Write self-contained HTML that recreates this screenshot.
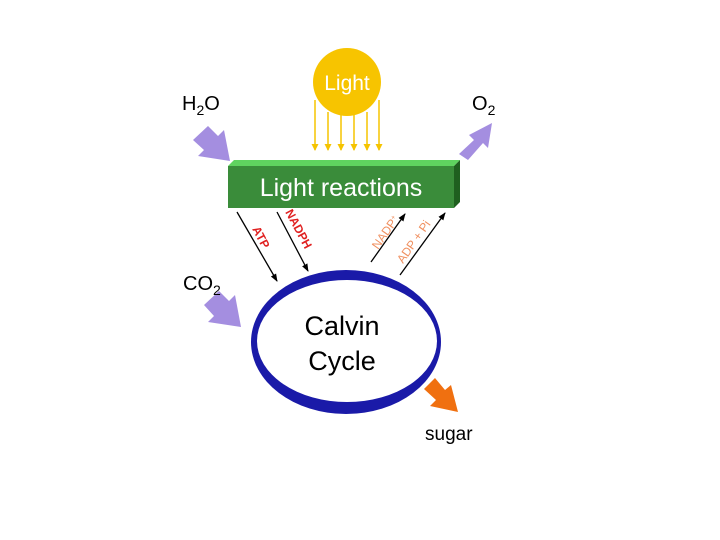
<!DOCTYPE html>
<html><head><style>body{margin:0;background:#fff}svg{display:block}</style></head><body>
<svg width="720" height="540" viewBox="0 0 720 540" font-family="Liberation Sans, sans-serif">
<defs>
<marker id="ah" markerWidth="8" markerHeight="8" refX="7" refY="4" orient="auto" markerUnits="userSpaceOnUse"><path d="M0,1 L8,4 L0,7 Z" fill="#000"/></marker>
<marker id="ay" markerWidth="7" markerHeight="7" refX="6" refY="3.5" orient="auto" markerUnits="userSpaceOnUse"><path d="M0,0 L7,3.5 L0,7 Z" fill="#f5c400"/></marker>
</defs>
<g stroke="#f5c400" stroke-width="1.5" marker-end="url(#ay)">
<line x1="315" y1="100" x2="315" y2="150"/><line x1="328" y1="112" x2="328" y2="150"/><line x1="341" y1="114" x2="341" y2="150"/><line x1="354" y1="114" x2="354" y2="150"/><line x1="367" y1="112" x2="367" y2="150"/><line x1="379" y1="100" x2="379" y2="150"/>
</g>
<circle cx="347" cy="82" r="34" fill="#f7c400"/>
<text x="347" y="90" font-size="21" fill="#fff" text-anchor="middle">Light</text>
<polygon points="228,166 234,160 460,160 454,166" fill="#5fd35f"/>
<polygon points="454,166 460,160 460,202 454,208" fill="#1f5f1f"/>
<rect x="228" y="166" width="226" height="42" fill="#3a8c3a"/>
<text x="341" y="196" font-size="25" fill="#fff" text-anchor="middle">Light reactions</text>
<g fill="#a48ee0">
<polygon points="193,140 208,126 218,136 224,130 230,161 198,156 204,150"/>
<polygon points="459,154 474,140 469,135 492,123 488,148 483,143 468,160"/>
<polygon points="204,305 219,291 229,301 235,295 241,327 208,322 214,316"/>
</g>
<polygon points="424,389 435,378 445,390 451,385 458,412 430,406 436,400" fill="#f07010"/>
<text x="182" y="110" font-size="20">H<tspan font-size="14" dy="5">2</tspan><tspan dy="-5">O</tspan></text>
<text x="472" y="110" font-size="20">O<tspan font-size="14" dy="5">2</tspan></text>
<text x="183" y="290" font-size="20">CO<tspan font-size="14" dy="5">2</tspan></text>
<text x="425" y="440" font-size="19">sugar</text>
<g stroke="#000" stroke-width="1.3" marker-end="url(#ah)">
<line x1="237" y1="212" x2="277" y2="281"/>
<line x1="277" y1="212" x2="308" y2="271"/>
<line x1="371" y1="262" x2="405" y2="214"/>
<line x1="400" y1="275" x2="445" y2="213"/>
</g>
<g font-size="12" font-weight="bold" fill="#e02020">
<text transform="translate(252,229) rotate(62)">ATP</text>
<text transform="translate(285,212) rotate(62)">NADPH</text>
</g>
<g font-size="12" fill="#f09060">
<text transform="translate(378,250) rotate(-55)">NADP<tspan font-size="7" dy="-4">+</tspan></text>
<text transform="translate(403,264) rotate(-55)">ADP + Pi</text>
</g>
<ellipse cx="346" cy="342" rx="95" ry="72" fill="#1a1aa8"/>
<ellipse cx="347" cy="341" rx="90" ry="61" fill="#fff"/>
<text x="342" y="335" font-size="27" text-anchor="middle">Calvin</text>
<text x="342" y="370" font-size="27" text-anchor="middle">Cycle</text>
</svg>
</body></html>
